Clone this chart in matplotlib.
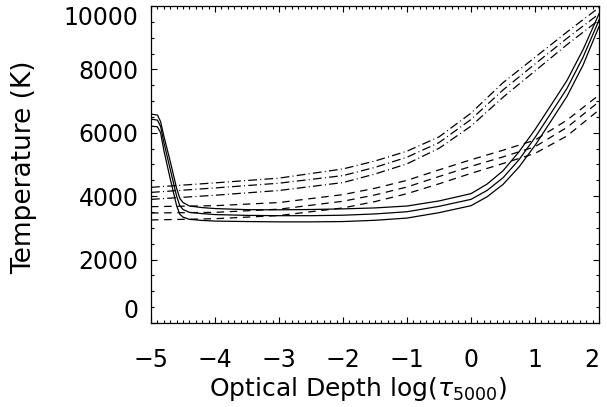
import numpy as np
import matplotlib
matplotlib.use('Agg')
import matplotlib.pyplot as plt
from matplotlib.ticker import AutoMinorLocator


# temperature stratifications, solid models (three variants)
log_tau_solid = [-5.0, -4.9, -4.85, -4.8, -4.7, -4.6, -4.55, -4.5, -4.4, -4.2,
                 -4.0, -3.5, -3.0, -2.5, -2.0, -1.5, -1.0, -0.5, 0.0, 0.25,
                 0.5, 0.75, 1.0, 1.25, 1.5, 1.75, 2.0]
temp_solid_hot = [6590, 6560, 6350, 5900, 5100, 4250, 3930, 3800, 3690, 3640,
                  3610, 3575, 3570, 3580, 3600, 3630, 3690, 3850, 4080, 4380,
                  4800, 5400, 6100, 6870, 7650, 8620, 9750]
temp_solid_mid = [6430, 6400, 6200, 5700, 4850, 4000, 3700, 3580, 3490, 3450,
                  3420, 3395, 3385, 3385, 3400, 3440, 3510, 3680, 3900, 4180,
                  4580, 5150, 5850, 6620, 7400, 8380, 9550]
temp_solid_cool = [6210, 6190, 6000, 5450, 4550, 3700, 3430, 3340, 3270, 3235,
                   3215, 3200, 3190, 3190, 3200, 3240, 3310, 3480, 3700, 3980,
                   4370, 4920, 5600, 6370, 7150, 8130, 9350]

# dash-dot and dashed model families
log_tau = [-5.0, -4.0, -3.0, -2.0, -1.5, -1.0, -0.5, 0.0, 0.5, 1.0, 1.5, 2.0]
temp_dashdot_hot = [4280, 4420, 4570, 4860, 5110, 5420, 5870, 6620, 7580, 8380, 9180, 9950]
temp_dashdot_mid = [4120, 4260, 4410, 4650, 4910, 5230, 5690, 6420, 7350, 8170, 8980, 9750]
temp_dashdot_cool = [3900, 4030, 4180, 4430, 4700, 5020, 5510, 6210, 7120, 7950, 8780, 9560]

temp_dashed_hot = [3670, 3700, 3800, 4050, 4250, 4500, 4830, 5150, 5450, 5770, 6400, 7190]
temp_dashed_mid = [3470, 3490, 3590, 3840, 4040, 4290, 4620, 4940, 5240, 5560, 6170, 6980]
temp_dashed_cool = [3250, 3290, 3390, 3630, 3830, 4080, 4390, 4720, 5030, 5350, 5900, 6720]

x_ticks = [-5, -4, -3, -2, -1, 0, 1, 2]
y_ticks = [0, 2000, 4000, 6000, 8000, 10000]


plt.rcParams['font.family'] = ['DejaVu Sans']
plt.rcParams['mathtext.fontset'] = 'dejavusans'

fig = plt.figure(figsize=(6.07, 4.07), dpi=100)
ax = fig.add_axes([0.2488, 0.2064, 0.738, 0.7789])

lw = 0.9
for temps in (temp_solid_hot, temp_solid_mid, temp_solid_cool):
    ax.plot(log_tau_solid, temps, color='black', lw=lw)
for temps in (temp_dashdot_hot, temp_dashdot_mid, temp_dashdot_cool):
    ax.plot(log_tau, temps, color='black', lw=lw, dashes=(7, 2.6, 0.8, 2.6))
for temps in (temp_dashed_hot, temp_dashed_mid, temp_dashed_cool):
    ax.plot(log_tau, temps, color='black', lw=lw, dashes=(6, 4.5))

ax.set_xlim(-5, 2)
ax.set_ylim(0, 10000)
ax.set_xticks(x_ticks)
ax.set_yticks(y_ticks)
ax.xaxis.set_minor_locator(AutoMinorLocator(10))
ax.yaxis.set_minor_locator(AutoMinorLocator(4))

ax.tick_params(which='both', direction='in', top=True, right=True, width=0.8)
ax.tick_params(which='major', length=4)
ax.tick_params(which='minor', length=2)
ax.tick_params(axis='x', which='major', pad=18, labelsize=17)
ax.tick_params(axis='y', which='major', pad=9, labelsize=17)
for spine in ax.spines.values():
    spine.set_linewidth(0.9)

# keep the end labels inside the frame
ylabels = ax.get_yticklabels()
ylabels[0].set_va('bottom')
ylabels[-1].set_va('top')
ax.get_xticklabels()[-1].set_ha('right')

ax.set_xlabel(r'Optical Depth log($\tau_{5000}$)', fontsize=18)
ax.set_ylabel('Temperature (K)', fontsize=19)
ax.xaxis.set_label_coords(0.462, -0.165)
ax.yaxis.set_label_coords(-0.255, 0.49)

fig.savefig('out.png', dpi=100)
